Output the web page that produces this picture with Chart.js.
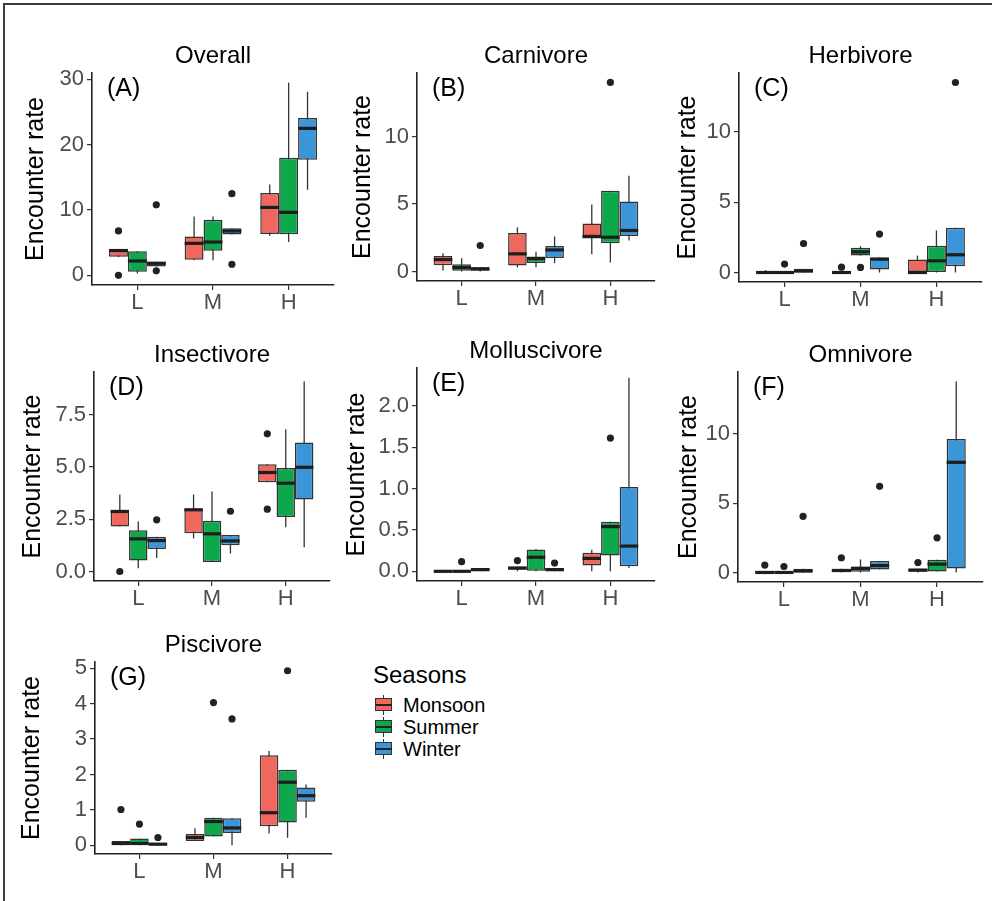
<!DOCTYPE html>
<html>
<head>
<meta charset="utf-8">
<script src="https://cdn.jsdelivr.net/npm/chart.js@4.4.1/dist/chart.umd.min.js"></script>
<style>
  body { margin: 0; background: #fff; }
  #wrap { position: relative; width: 992px; height: 901px; overflow: hidden; background: #fff;
          font-family: "Liberation Sans", Arial, Helvetica, sans-serif; }
  #frame { position: absolute; left: 3px; top: 3px; width: 1200px; height: 1200px;
           border-left: 2px solid #3c3c3c; border-top: 2px solid #3c3c3c; }
  #legend { position: absolute; left: 373px; top: 660px; color: #000; }
  #legend .ttl { font-size: 24px; line-height: 30px; }
  #legend .row { position: relative; height: 22px; }
  #legend .lab { position: absolute; left: 30px; top: 0; font-size: 20px; line-height: 22px; }
  #legend .key { position: absolute; left: 2px; top: 0; width: 18px; height: 22px; }
</style>
</head>
<body>
<div id="wrap">
  <div id="frame"></div>
  <div id="legend"></div>
</div>
<script>
const categories = ['L', 'M', 'H'];
const seasons = ['Monsoon', 'Summer', 'Winter'];
const seasonColors = ['#F0675E', '#0DA84C', '#3A96D8'];

// rows: [lower whisker, Q1, median, Q3, upper whisker] for L, M, H
const overallMonsoon = [[2.8, 2.85, 3.8, 4.0, 4.0], [2.3, 2.4, 4.9, 5.95, 9.0], [6.05, 6.35, 10.4, 12.6, 13.9]];
const overallSummer = [[0.3, 0.55, 2.2, 3.7, 3.7], [2.3, 3.75, 5.1, 8.5, 9.0], [5.1, 6.3, 9.65, 18.0, 29.5]];
const overallWinter = [[1.35, 1.35, 1.85, 2.1, 2.1], [6.25, 6.25, 6.8, 7.2, 7.2], [13.1, 17.7, 22.5, 24.1, 28.1]];
const overallOutliers = [['Monsoon', 'L', 6.8], ['Monsoon', 'L', 0], ['Winter', 'L', 10.8], ['Winter', 'L', 0.7],
                         ['Winter', 'M', 12.5], ['Winter', 'M', 1.7]];
const overallTicks = [0, 10, 20, 30];

const carnivoreMonsoon = [[0.07, 0.47, 0.89, 1.16, 1.36], [0.3, 0.44, 1.31, 2.86, 3.28], [1.28, 2.44, 2.6, 3.56, 4.96]];
const carnivoreSummer = [[0, 0.05, 0.3, 0.54, 0.99], [0.32, 0.64, 0.96, 1.11, 1.46], [0.67, 2.1, 2.54, 5.98, 5.98]];
const carnivoreWinter = [[0, 0.05, 0.2, 0.32, 0.32], [0.62, 1.01, 1.6, 1.9, 2.6], [2.3, 2.64, 3.04, 5.19, 7.1]];
const carnivoreOutliers = [['Winter', 'L', 1.93], ['Summer', 'H', 14.0]];
const carnivoreTicks = [0, 5, 10];

const herbivoreMonsoon = [[0, 0, 0, 0.05, 0.17], [0, 0, 0, 0, 0], [0, 0, 0, 0.92, 1.2]];
const herbivoreSummer = [[0, 0, 0, 0, 0], [1.2, 1.21, 1.47, 1.75, 1.87], [0, 0, 0.83, 1.9, 2.99]];
const herbivoreWinter = [[0, 0, 0.1, 0.26, 0.26], [0, 0.21, 0.95, 1.07, 1.07], [0, 0.45, 1.26, 3.18, 3.18]];
const herbivoreOutliers = [['Summer', 'L', 0.6], ['Winter', 'L', 2.06], ['Monsoon', 'M', 0.38], ['Summer', 'M', 0.36],
                           ['Winter', 'M', 2.73], ['Winter', 'H', 13.5]];
const herbivoreTicks = [0, 5, 10];

const insectivoreMonsoon = [[2.15, 2.15, 2.87, 2.9, 3.68], [1.58, 1.83, 2.95, 2.99, 3.68], [4.27, 4.27, 4.73, 5.13, 5.13]];
const insectivoreSummer = [[0.16, 0.53, 1.56, 1.97, 2.39], [0.45, 0.45, 1.8, 2.42, 3.82], [2.12, 2.6, 4.22, 4.95, 6.8]];
const insectivoreWinter = [[0.64, 1.08, 1.48, 1.66, 1.66], [0.86, 1.26, 1.46, 1.74, 1.74], [1.16, 3.44, 4.98, 6.16, 9.08]];
const insectivoreOutliers = [['Monsoon', 'L', 0], ['Winter', 'L', 2.47], ['Winter', 'M', 2.88],
                             ['Monsoon', 'H', 6.58], ['Monsoon', 'H', 2.98]];
const insectivoreTicks = [0, 2.5, 5, 7.5];

const molluscivoreMonsoon = [[0, 0, 0, 0, 0], [0, 0.02, 0.04, 0.056, 0.056], [0, 0.07, 0.156, 0.225, 0.26]];
const molluscivoreSummer = [[0, 0, 0, 0, 0], [0, 0, 0.17, 0.265, 0.27], [0, 0.19, 0.54, 0.6, 0.6]];
const molluscivoreWinter = [[0, 0, 0.02, 0.04, 0.04], [0, 0, 0.02, 0.04, 0.04], [0.04, 0.06, 0.305, 1.02, 2.34]];
const molluscivoreOutliers = [['Summer', 'L', 0.116], ['Monsoon', 'M', 0.13], ['Winter', 'M', 0.1], ['Summer', 'H', 1.61]];
const molluscivoreTicks = [0, 0.5, 1, 1.5, 2];

const omnivoreMonsoon = [[0, 0, 0, 0.1, 0.1], [0, 0, 0.14, 0.27, 0.27], [0, 0, 0.17, 0.27, 0.27]];
const omnivoreSummer = [[0, 0, 0, 0, 0], [0, 0, 0.29, 0.43, 0.94], [0.07, 0.07, 0.6, 0.92, 0.92]];
const omnivoreWinter = [[0, 0, 0.1, 0.27, 0.27], [0.22, 0.22, 0.5, 0.82, 0.82], [0, 0.29, 7.95, 9.64, 13.78]];
const omnivoreOutliers = [['Monsoon', 'L', 0.53], ['Summer', 'L', 0.43], ['Winter', 'L', 4.05], ['Monsoon', 'M', 1.06],
                          ['Winter', 'M', 6.22], ['Monsoon', 'H', 0.72], ['Summer', 'H', 2.5]];
const omnivoreTicks = [0, 5, 10];

const piscivoreMonsoon = [[0, 0, 0.05, 0.12, 0.12], [0.12, 0.12, 0.22, 0.32, 0.48], [0.33, 0.54, 0.92, 2.54, 2.66]];
const piscivoreSummer = [[0, 0, 0.05, 0.19, 0.19], [0.25, 0.25, 0.67, 0.78, 0.78], [0.21, 0.64, 1.78, 2.13, 2.13]];
const piscivoreWinter = [[0, 0, 0.03, 0.07, 0.07], [0, 0.35, 0.49, 0.76, 0.76], [0.78, 1.23, 1.4, 1.63, 1.72]];
const piscivoreOutliers = [['Monsoon', 'L', 1.01], ['Summer', 'L', 0.6], ['Winter', 'L', 0.22], ['Summer', 'M', 4.03],
                           ['Winter', 'M', 3.57], ['Summer', 'H', 4.93]];
const piscivoreTicks = [0, 1, 2, 3, 4, 5];

// plot area [left, top, right, bottom] and x of the y axis title, in page pixels
const panels = [
  {tag: '(A)', title: 'Overall', stats: [overallMonsoon, overallSummer, overallWinter], out: overallOutliers, ticks: overallTicks, box: [92, 73, 334, 285], ytx: 36},
  {tag: '(B)', title: 'Carnivore', stats: [carnivoreMonsoon, carnivoreSummer, carnivoreWinter], out: carnivoreOutliers, ticks: carnivoreTicks, box: [417, 73, 655, 281], ytx: 363},
  {tag: '(C)', title: 'Herbivore', stats: [herbivoreMonsoon, herbivoreSummer, herbivoreWinter], out: herbivoreOutliers, ticks: herbivoreTicks, box: [739, 73, 982, 282], ytx: 688},
  {tag: '(D)', title: 'Insectivore', stats: [insectivoreMonsoon, insectivoreSummer, insectivoreWinter], out: insectivoreOutliers, ticks: insectivoreTicks, box: [94, 372, 330, 581], ytx: 33},
  {tag: '(E)', title: 'Molluscivore', stats: [molluscivoreMonsoon, molluscivoreSummer, molluscivoreWinter], out: molluscivoreOutliers, ticks: molluscivoreTicks, box: [417, 368, 655, 581], ytx: 357},
  {tag: '(F)', title: 'Omnivore', stats: [omnivoreMonsoon, omnivoreSummer, omnivoreWinter], out: omnivoreOutliers, ticks: omnivoreTicks, box: [738, 372, 983, 582], ytx: 689},
  {tag: '(G)', title: 'Piscivore', stats: [piscivoreMonsoon, piscivoreSummer, piscivoreWinter], out: piscivoreOutliers, ticks: piscivoreTicks, box: [95, 662, 332, 854], ytx: 32}
];

Chart.defaults.font.family = '"Liberation Sans", Arial, Helvetica, sans-serif';

// whiskers under the boxes, medians + outliers on top
const boxPlotParts = {
  id: 'boxPlotParts',
  beforeDatasetsDraw(chart) {
    const ctx = chart.ctx, y = chart.scales.y;
    ctx.save();
    ctx.strokeStyle = '#333333';
    ctx.lineWidth = 1.3;
    chart.data.datasets.forEach((ds, d) => {
      chart.getDatasetMeta(d).data.forEach((bar, i) => {
        const s = ds.stats[i];
        ctx.beginPath();
        ctx.moveTo(bar.x, y.getPixelForValue(s[0]));
        ctx.lineTo(bar.x, y.getPixelForValue(s[4]));
        ctx.stroke();
      });
    });
    ctx.restore();
  },
  afterDatasetsDraw(chart, args, opts) {
    const ctx = chart.ctx, y = chart.scales.y;
    ctx.save();
    ctx.strokeStyle = '#1e1e1e';
    ctx.lineWidth = 3.2;
    chart.data.datasets.forEach((ds, d) => {
      chart.getDatasetMeta(d).data.forEach((bar, i) => {
        const m = y.getPixelForValue(ds.stats[i][2]);
        ctx.beginPath();
        ctx.moveTo(bar.x - bar.width / 2, m);
        ctx.lineTo(bar.x + bar.width / 2, m);
        ctx.stroke();
      });
    });
    ctx.fillStyle = '#222222';
    opts.outliers.forEach(o => {
      const bar = chart.getDatasetMeta(seasons.indexOf(o[0])).data[categories.indexOf(o[1])];
      ctx.beginPath();
      ctx.arc(bar.x, y.getPixelForValue(o[2]), 3.6, 0, Math.PI * 2);
      ctx.fill();
    });
    ctx.fillStyle = '#000';
    ctx.font = '25px "Liberation Sans", Arial, sans-serif';
    ctx.textBaseline = 'middle';
    ctx.fillText(opts.tag, chart.chartArea.left + 15, chart.chartArea.top + 16);
    ctx.restore();
  }
};

const wrap = document.getElementById('wrap');

function makePanel(p) {
  const TH = 32, XH = 42, RP = 6;
  const cl = p.ytx - 15;
  const ct = p.box[1] - TH;
  const cw = p.box[2] + RP - cl;
  const ch = p.box[3] + XH - ct;
  const yw = p.box[0] - cl;

  const canvas = document.createElement('canvas');
  canvas.width = cw;
  canvas.height = ch;
  canvas.style.cssText = 'position:absolute;left:' + cl + 'px;top:' + ct + 'px;width:' + cw + 'px;height:' + ch + 'px';
  wrap.appendChild(canvas);

  let vals = [];
  p.stats.forEach(s => s.forEach(r => { vals = vals.concat(r); }));
  p.out.forEach(o => vals.push(o[2]));
  const lo = Math.min(...vals), hi = Math.max(...vals), pad = (hi - lo) * 0.05;
  const dec = p.ticks.some(t => t % 1 !== 0) ? 1 : 0;

  new Chart(canvas, {
    type: 'bar',
    data: {
      datasets: seasons.map((s, k) => ({
        label: s,
        data: p.stats[k].map((r, i) => ({x: i + 1, y: [r[1], r[3]]})),
        stats: p.stats[k],
        backgroundColor: seasonColors[k],
        borderColor: '#333333',
        borderWidth: 1.5,
        borderSkipped: false,
        categoryPercentage: 0.75,
        barPercentage: 1
      }))
    },
    plugins: [boxPlotParts],
    options: {
      responsive: false,
      animation: false,
      layout: {padding: {left: 0, top: 0, right: RP, bottom: 0}},
      plugins: {
        legend: {display: false},
        tooltip: {enabled: false},
        title: {
          display: true, text: p.title, fullSize: false, color: '#000',
          font: {size: 24, weight: 'normal', lineHeight: 1.25},
          padding: {top: 0, bottom: 2}
        },
        boxPlotParts: {outliers: p.out, tag: p.tag}
      },
      scales: {
        x: {
          type: 'linear', min: 0.4, max: 3.6, offset: false,
          afterBuildTicks: axis => { axis.ticks = categories.map((c, i) => ({value: i + 1})); },
          afterFit: axis => { axis.height = XH; },
          ticks: {
            autoSkip: false, maxRotation: 0, padding: 0, color: '#4d4d4d', font: {size: 22},
            callback: v => categories[v - 1]
          },
          grid: {display: true, offset: false, drawOnChartArea: false, drawTicks: true, tickLength: 5, color: '#333333', lineWidth: 1.2},
          border: {display: true, color: '#222222', width: 1.6}
        },
        y: {
          min: lo - pad, max: hi + pad,
          afterBuildTicks: axis => { axis.ticks = p.ticks.map(v => ({value: v})); },
          afterFit: axis => { axis.width = yw; },
          ticks: {
            padding: 3, color: '#4d4d4d', font: {size: 22},
            callback: v => Number(v).toFixed(dec)
          },
          grid: {display: true, drawOnChartArea: false, drawTicks: true, tickLength: 5, color: '#333333', lineWidth: 1.2},
          border: {display: true, color: '#222222', width: 1.6},
          title: {display: true, text: 'Encounter rate', color: '#000', font: {size: 25, lineHeight: 1.2}, padding: {top: 0, bottom: 0}}
        }
      }
    }
  });
}

panels.forEach(makePanel);

// legend
const legend = document.getElementById('legend');
let html = '<div class="ttl">Seasons</div><div style="height:4px"></div>';
seasons.forEach((s, k) => {
  html += '<div class="row"><div class="key">' +
    '<div style="position:absolute;left:8px;top:1px;width:1.4px;height:20px;background:#333"></div>' +
    '<div style="position:absolute;left:0;top:4px;width:15px;height:11px;border:1.5px solid #333;background:' + seasonColors[k] + '"></div>' +
    '<div style="position:absolute;left:1px;top:9.5px;width:16px;height:2.6px;background:#222"></div>' +
    '</div><div class="lab">' + s + '</div></div>';
});
legend.innerHTML = html;
</script>
</body>
</html>
